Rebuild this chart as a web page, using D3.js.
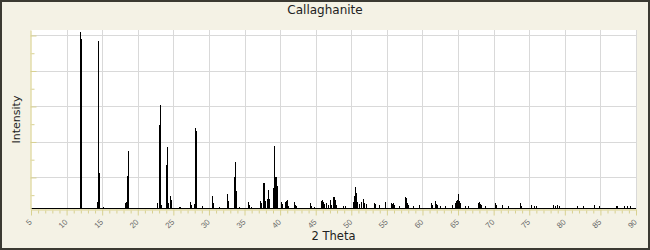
<!DOCTYPE html>
<html>
<head>
<meta charset="utf-8">
<script src="https://cdn.jsdelivr.net/npm/d3@7"></script>
<style>
	body { margin: 0; background: #fff; }
	svg { display: block; font-family: 'DejaVu Sans', sans-serif; }
</style>
</head>
<body>
<script>

// peak positions (2 theta, degrees) and intensities
const peakTheta = [
	11.86, 12.00, 14.24, 14.38, 14.52, 15.09, 18.18, 18.32, 18.46, 18.60,
	22.67, 22.96, 23.10, 23.24, 23.99, 24.13, 24.27, 24.50, 24.64, 25.82,
	25.96, 27.31, 27.45, 27.92, 28.01, 28.15, 29.05, 30.45, 30.60, 31.38,
	32.51, 32.65, 33.49, 33.63, 33.77, 34.19, 35.46, 35.60, 35.94, 37.14,
	37.28, 37.57, 37.71, 37.85, 38.13, 38.27, 38.41, 38.97, 39.11, 39.25,
	39.39, 39.53, 40.09, 40.23, 40.66, 40.80, 40.94, 41.08, 41.92, 42.06,
	42.20, 44.17, 44.31, 44.73, 45.81, 45.95, 46.09, 46.23, 46.51, 46.66,
	46.94, 47.08, 47.36, 47.50, 47.64, 47.78, 47.92, 48.90, 49.05, 50.17,
	50.31, 50.45, 50.59, 50.73, 50.87, 51.15, 51.43, 51.71, 51.85, 52.13,
	53.26, 53.40, 53.96, 54.67, 55.51, 55.65, 55.79, 55.93, 56.64, 57.61,
	57.75, 57.89, 58.03, 58.60, 59.58, 61.13, 61.27, 61.83, 61.97, 62.11,
	62.53, 63.23, 64.08, 64.50, 64.78, 64.92, 65.06, 65.20, 65.34, 66.04,
	66.46, 67.87, 68.01, 68.15, 68.29, 68.85, 70.12, 70.26, 70.40, 71.20,
	71.99, 73.67, 73.81, 75.27, 75.64, 75.98, 78.36, 78.59, 78.93, 79.25,
	81.73, 82.58, 84.07, 84.82, 87.12, 87.36, 88.38, 88.76, 89.12
];
const peakIntensity = [
	102.1, 98.0, 6.4, 97.1, 22.7, 3.4, 5.8, 6.4, 20.8, 34.9,
	5.6, 49.6, 60.8, 4.7, 27.0, 37.2, 5.6, 9.6, 7.3, 3.4,
	3.4, 6.2, 4.3, 5.1, 48.1, 46.2, 3.9, 9.6, 5.5, 3.2,
	10.7, 6.8, 20.5, 28.7, 12.4, 3.2, 6.2, 4.5, 3.5, 6.8,
	5.5, 16.9, 16.9, 6.8, 7.7, 13.0, 7.7, 13.9, 37.7, 20.3,
	20.3, 15.2, 6.0, 4.9, 6.0, 6.8, 7.3, 4.1, 6.4, 4.5,
	3.8, 5.6, 3.8, 3.5, 6.8, 7.3, 6.2, 5.1, 5.6, 4.3,
	7.3, 4.5, 9.0, 9.0, 5.6, 7.3, 4.5, 3.9, 3.9, 6.4,
	9.6, 6.4, 14.5, 11.1, 6.0, 5.2, 6.4, 7.7, 5.8, 5.1,
	5.5, 4.9, 4.5, 6.0, 5.5, 5.1, 5.5, 4.5, 3.9, 9.2,
	8.5, 5.8, 4.5, 3.8, 4.5, 5.5, 4.5, 6.8, 5.1, 4.5,
	3.9, 3.8, 4.5, 5.5, 6.9, 7.3, 10.7, 6.9, 5.5, 3.9,
	3.9, 5.5, 6.4, 5.1, 4.5, 3.9, 5.8, 4.5, 4.5, 4.5,
	3.7, 5.6, 3.9, 4.5, 3.9, 3.9, 4.5, 3.9, 4.2, 3.8,
	3.9, 3.9, 4.5, 3.8, 3.7, 3.7, 3.7, 3.7, 3.7
];
const background = 2.8;

const xTicks = [5, 10, 15, 20, 25, 30, 35, 40, 45, 50, 55, 60, 65, 70, 75, 80, 85, 90];
const xMinorTicks = d3.range(5, 91, 1).filter(v => v % 5 !== 0);
const yTicks = [20, 40, 60, 80, 100];
const yMinorTicks = [10, 30, 50, 70, 90];

const dataset = peakTheta.map((t, i) => ({ theta: t, value: peakIntensity[i] }));

chart(dataset);

function chart(dataset) {

	const width = 650;
	const height = 250;
	const left = 31, right = 636, top = 30, bottom = 209;

	const xScale = d3.scaleLinear()
						.domain([5, 90])
						.range([left, right]);
	const yScale = d3.scaleLinear()
						.domain([2.2, 103.1])
						.range([bottom, top]);

	const svg = d3.select('body')
					.append('svg')
					.attr('width', width)
					.attr('height', height);

	// frame
	svg.append('rect')
		.attr('x', 1)
		.attr('y', 1)
		.attr('width', width - 2)
		.attr('height', height - 2)
		.attr('fill', '#f4f2e5')
		.attr('stroke', '#3b3a32')
		.attr('stroke-width', 2);

	svg.append('rect')
		.attr('x', left)
		.attr('y', top)
		.attr('width', right - left)
		.attr('height', bottom - top)
		.attr('fill', '#fff');

	// grid
	svg.append('g')
		.selectAll('line')
		.data(xTicks.slice(1))
		.enter()
		.append('line')
		.attr('x1', d => Math.round(xScale(d)) + 0.5)
		.attr('x2', d => Math.round(xScale(d)) + 0.5)
		.attr('y1', top)
		.attr('y2', bottom)
		.attr('stroke', '#d9d9d9');

	svg.append('g')
		.selectAll('line')
		.data(yTicks)
		.enter()
		.append('line')
		.attr('x1', left)
		.attr('x2', right)
		.attr('y1', d => Math.round(yScale(d)) + 0.5)
		.attr('y2', d => Math.round(yScale(d)) + 0.5)
		.attr('stroke', '#d9d9d9');

	// pattern: background line plus one stick per peak
	svg.append('line')
		.attr('x1', xScale(5))
		.attr('x2', xScale(90))
		.attr('y1', Math.round(yScale(background)) + 0.5)
		.attr('y2', Math.round(yScale(background)) + 0.5)
		.attr('stroke', '#000');

	svg.append('g')
		.selectAll('line')
		.data(dataset)
		.enter()
		.append('line')
		.attr('x1', d => Math.round(xScale(d.theta)) + 0.5)
		.attr('x2', d => Math.round(xScale(d.theta)) + 0.5)
		.attr('y1', Math.round(yScale(background)) + 0.5)
		.attr('y2', d => Math.round(yScale(d.value)))
		.attr('stroke', '#000')
		.attr('stroke-width', 1.2)
		.attr('shape-rendering', 'crispEdges');

	// axes
	const xAxis = svg.append('g')
		.attr('transform', 'translate(0,' + (bottom + 0.5) + ')');

	xAxis.append('g')
		.call(d3.axisBottom(xScale).tickValues(xMinorTicks).tickSize(4).tickFormat(''))
		.call(g => g.select('.domain').remove());

	xAxis.append('g')
		.call(d3.axisBottom(xScale).tickValues(xTicks).tickSize(6).tickSizeOuter(0))
		.call(g => g.select('.domain').attr('stroke', '#e3ddaa').attr('stroke-width', 1.5))
		.call(g => g.selectAll('text')
			.attr('y', null)
			.attr('dy', null)
			.attr('transform', 'translate(1,13) rotate(-45)')
			.attr('text-anchor', 'end')
			.attr('fill', '#6a6a6a')
			.style('font-size', '8px'));

	xAxis.selectAll('.tick line').attr('stroke', '#d8d190');

	const yAxis = svg.append('g')
		.attr('transform', 'translate(' + (left - 0.5) + ',0)');

	yAxis.append('g')
		.call(d3.axisRight(yScale).tickValues(yMinorTicks).tickSize(4).tickFormat(''))
		.call(g => g.select('.domain').remove());

	yAxis.append('g')
		.call(d3.axisRight(yScale).tickValues(yTicks).tickSize(6).tickSizeOuter(0).tickFormat(''))
		.call(g => g.select('.domain').attr('stroke', '#e3ddaa').attr('stroke-width', 1.5));

	yAxis.selectAll('.tick line').attr('stroke', '#d8d190');

	// titles
	svg.append('text')
		.attr('x', width / 2)
		.attr('y', 14)
		.attr('text-anchor', 'middle')
		.attr('fill', '#222')
		.style('font-size', '12px')
		.text('Callaghanite');

	svg.append('text')
		.attr('x', (left + right) / 2)
		.attr('y', 240)
		.attr('text-anchor', 'middle')
		.attr('fill', '#222')
		.style('font-size', '11.5px')
		.text('2 Theta');

	svg.append('text')
		.attr('transform', 'translate(20,' + ((top + bottom) / 2) + ') rotate(-90)')
		.attr('text-anchor', 'middle')
		.attr('fill', '#222')
		.style('font-size', '11px')
		.text('Intensity');

}

</script>
</body>
</html>
